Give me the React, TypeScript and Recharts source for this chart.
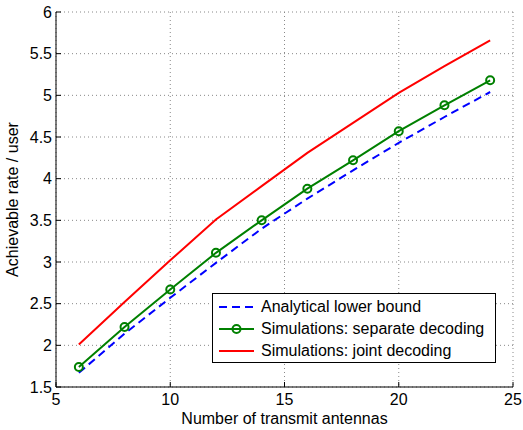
import React from 'react';
import { LineChart, Line, XAxis, YAxis, CartesianGrid, Legend } from 'recharts';

const antennas = [6, 8, 10, 12, 14, 16, 18, 20, 22, 24];
const lowerBound = [1.67, 2.14, 2.57, 2.99, 3.4, 3.76, 4.1, 4.43, 4.74, 5.04];
const separateDecoding = [1.74, 2.22, 2.67, 3.11, 3.5, 3.88, 4.22, 4.57, 4.88, 5.18];
const jointDecoding = [2.01, 2.52, 3.02, 3.51, 3.91, 4.31, 4.67, 5.03, 5.35, 5.66];

const xTicks = [5, 10, 15, 20, 25];
const yTicks = [1.5, 2, 2.5, 3, 3.5, 4, 4.5, 5, 5.5, 6];

const series = [
  { key: 'lower', name: 'Analytical lower bound', color: '#0000ff', dash: '8 5', marker: false },
  { key: 'separate', name: 'Simulations: separate decoding', color: '#008000', dash: undefined, marker: true },
  { key: 'joint', name: 'Simulations: joint decoding', color: '#ff0000', dash: undefined, marker: false },
];

const data = antennas.map((n, i) => ({
  n,
  lower: lowerBound[i],
  separate: separateDecoding[i],
  joint: jointDecoding[i],
}));

const FONT = '"Liberation Sans", Arial, Helvetica, sans-serif';
const tickStyle = { fontSize: 16, fill: '#000', fontFamily: FONT };

const fmt = (v: number) => String(v);
const blank = () => '';

const LegendBox = () => (
  <div
    style={{
      border: '1px solid #000',
      background: '#fff',
      width: 282,
      height: 66,
      boxSizing: 'content-box',
      fontFamily: FONT,
      fontSize: 16,
      color: '#000',
      paddingTop: 2,
    }}
  >
    {series.map((s) => (
      <div key={s.key} style={{ display: 'flex', alignItems: 'center', height: 22 }}>
        <svg width={48} height={22} style={{ flex: 'none' }}>
          <line x1={6} x2={41} y1={11} y2={11} stroke={s.color} strokeWidth={2} strokeDasharray={s.dash} />
          {s.marker && <circle cx={23.5} cy={11} r={4} fill="none" stroke={s.color} strokeWidth={2} />}
        </svg>
        <span style={{ whiteSpace: 'nowrap' }}>{s.name}</span>
      </div>
    ))}
  </div>
);

export default function App() {
  return (
    <div style={{ position: 'absolute', left: 0, top: 0, width: 523, height: 430, background: '#fff' }}>
      <LineChart width={523} height={430} data={data} margin={{ top: 12, right: 10, bottom: 0, left: 0 }}>
        <CartesianGrid stroke="#888" strokeDasharray="1 3" />
        <XAxis
          dataKey="n"
          type="number"
          domain={[5, 25]}
          ticks={xTicks}
          tickFormatter={fmt}
          height={43}
          stroke="#000"
          tickSize={-5}
          tickMargin={12}
          tick={tickStyle}
          label={{ value: 'Number of transmit antennas', position: 'insideBottom', offset: 6, style: { ...tickStyle } }}
        />
        <XAxis
          xAxisId="top"
          orientation="top"
          dataKey="n"
          type="number"
          domain={[5, 25]}
          ticks={xTicks}
          tickFormatter={blank}
          height={0}
          stroke="#000"
          tickSize={-5}
        />
        <YAxis
          type="number"
          domain={[1.5, 6]}
          ticks={yTicks}
          tickFormatter={fmt}
          width={56}
          stroke="#000"
          tickSize={-5}
          tickMargin={9}
          tick={tickStyle}
          label={{ value: 'Achievable rate / user', angle: -90, position: 'insideLeft', offset: 0, dx: 12, style: { ...tickStyle, textAnchor: 'middle' } }}
        />
        <YAxis
          yAxisId="right"
          orientation="right"
          type="number"
          domain={[1.5, 6]}
          ticks={yTicks}
          tickFormatter={blank}
          width={0}
          stroke="#000"
          tickSize={-5}
        />
        {series.map((s) => (
          <Line
            key={s.key}
            dataKey={s.key}
            name={s.name}
            stroke={s.color}
            strokeWidth={2}
            strokeDasharray={s.dash}
            dot={s.marker ? { r: 4, fill: 'none', stroke: s.color, strokeWidth: 2 } : false}
            activeDot={false}
            isAnimationActive={false}
          />
        ))}
        <Legend
          layout="vertical"
          align="center"
          verticalAlign="middle"
          content={() => <LegendBox />}
          wrapperStyle={{ position: 'absolute', left: 212, top: 293, width: 'auto', height: 'auto' }}
        />
      </LineChart>
    </div>
  );
}
